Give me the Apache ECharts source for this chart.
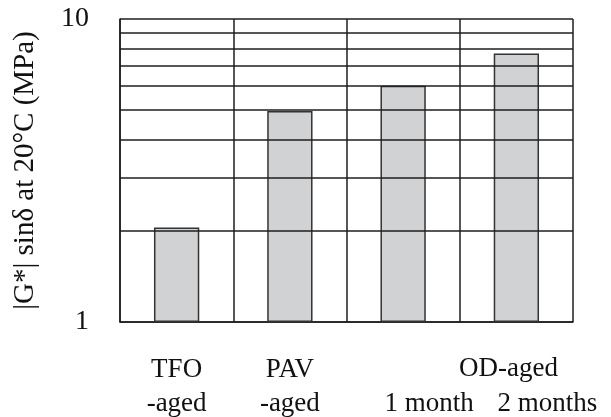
<!DOCTYPE html>
<html>
<head>
<meta charset="utf-8">
<script src="https://cdn.jsdelivr.net/npm/echarts@6/dist/echarts.min.js"></script>
<style>html,body{margin:0;padding:0;background:#fff;}#c{width:611px;height:417px;}</style>
</head>
<body>
<div id="c"></div>
<script>
var categories = ['TFO\n-aged', 'PAV\n-aged', '\n1 month', '\n2 months'];
var values = [2.05, 4.97, 6.02, 7.7];
var gridValues = [2, 3, 4, 5, 6, 7, 8, 9];
var groupLabel = 'OD-aged';
var yName = '|G*| sinδ at 20°C (MPa)';

var font = '"Liberation Serif", "Times New Roman", serif';
var lineColor = '#1e1e1e';
var labelPad = [0, 0, 52, 62];
var chart = echarts.init(document.getElementById('c'));
chart.setOption({
  animation: false,
  backgroundColor: '#fff',
  grid: { left: 120, top: 19, right: 38, bottom: 95, outerBoundsMode: 'none', containLabel: false },
  xAxis: {
    type: 'category',
    data: categories.map(function (c, i) {
      if (labelPad[i]) return { value: c, textStyle: { padding: [0, 0, 0, labelPad[i]] } };
      return c;
    }),
    axisLine: { show: true, lineStyle: { color: lineColor, width: 1.5 } },
    axisTick: { show: false },
    splitLine: { show: true, lineStyle: { color: lineColor, width: 1.5 } },
    axisLabel: { fontFamily: font, fontSize: 27, color: '#111', lineHeight: 34, margin: 31, interval: 0 }
  },
  yAxis: {
    type: 'log',
    logBase: 10,
    min: 1,
    max: 10,
    name: yName,
    nameLocation: 'middle',
    nameGap: 80,
    nameTextStyle: { fontFamily: font, fontSize: 29, color: '#111' },
    axisLine: { show: true, lineStyle: { color: lineColor, width: 1.5 } },
    axisTick: { show: false },
    splitLine: { show: true, lineStyle: { color: lineColor, width: 1.5 } },
    axisLabel: { fontFamily: font, fontSize: 28, color: '#111', margin: 31 }
  },
  graphic: [{
    type: 'text',
    left: 459, top: 355,
    style: { text: groupLabel, fontFamily: font, fontSize: 27, fill: '#111', textAlign: 'center' }
  }],
  series: [{
    type: 'line',
    data: [],
    z: 1,
    silent: true,
    markLine: {
      silent: true,
      symbol: 'none',
      label: { show: false },
      lineStyle: { type: 'solid', color: lineColor, width: 1.5 },
      data: gridValues.map(function (v) { return { yAxis: v }; })
    }
  }, {
    type: 'bar',
    z: 3,
    data: values,
    barWidth: '40%',
    itemStyle: { color: '#d1d2d4', borderColor: '#333', borderWidth: 1.5 }
  }]
});
</script>
</body>
</html>
